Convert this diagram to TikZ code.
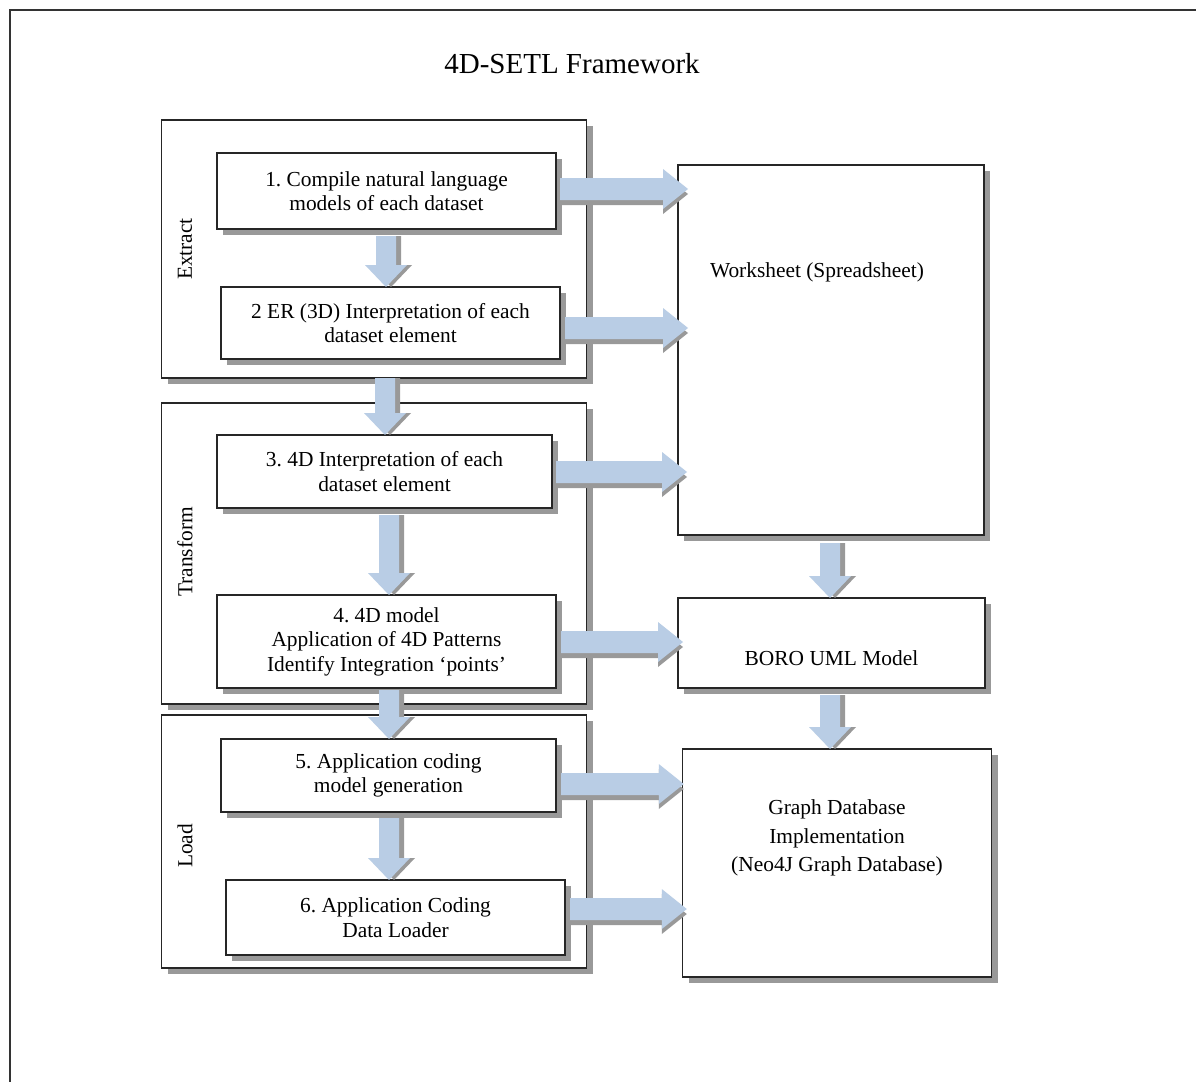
\documentclass[tikz,border=0pt]{standalone}
\usepackage{fontspec}
\setmainfont{Liberation Serif}
\frenchspacing
\usetikzlibrary{calc,shadows}
\definecolor{arrowblue}{RGB}{185,205,229}
\definecolor{shadowgrey}{RGB}{153,153,153}

\tikzset{
  boxshadow/.style={drop shadow={shadow xshift=6pt, shadow yshift=-6pt, fill=shadowgrey, opacity=1}},
  plainbox/.style={draw=black!85, line width=1.3pt, fill=white, boxshadow, inner sep=0pt, outer sep=0pt},
  stepbox/.style={plainbox, align=center, font=\fontsize{21.4}{24.5}\selectfont},
  txt/.style={inner sep=0pt, align=center, font=\fontsize{21.4}{24.5}\selectfont},
  phase/.style={txt, rotate=90},
}

% block arrow pointing down, shaft centred on x (px), from below node #2 to top of node #3
\newcommand\downblock[4]{%
  \foreach \dx/\dy/\col in {5/-5/shadowgrey, 0/0/arrowblue}{%
    \fill[\col, xshift=\dx pt, yshift=\dy pt] let \p1=(#2.south), \p2=(#3.north) in
      ({#1pt-10pt},{\y1-#4pt}) -- ({#1pt-10pt},{\y2+22pt}) -- ({#1pt-21pt},{\y2+22pt})
      -- (#1pt,\y2) -- ({#1pt+21pt},{\y2+22pt}) -- ({#1pt+10pt},{\y2+22pt})
      -- ({#1pt+10pt},{\y1-#4pt}) -- cycle;}}

% block arrow pointing right at height y (px), from node #2 into node #3
\newcommand\rightblock[5]{%
  \foreach \dx/\dy/\col in {5/-5/shadowgrey, 0/0/arrowblue}{%
    \fill[\col, xshift=\dx pt, yshift=\dy pt] let \p1=(#2.east), \p2=(#3.west) in
      ({\x1+#4pt},{-#1pt+11pt}) -- ({\x2+#5pt-25pt},{-#1pt+11pt}) -- ({\x2+#5pt-25pt},{-#1pt+20pt})
      -- ({\x2+#5pt},{-#1pt}) -- ({\x2+#5pt-25pt},{-#1pt-20pt}) -- ({\x2+#5pt-25pt},{-#1pt-11pt})
      -- ({\x1+#4pt},{-#1pt-11pt}) -- cycle;}}

\begin{document}
\begin{tikzpicture}[x=1pt,y=-1pt]
  \clip (0,0) rectangle (1196,1081);
  \fill[white] (0,0) rectangle (1196,1081);

  % outer frame (runs past the page on the right and bottom)
  \draw[black!80, line width=2pt] (1250,10) -- (10,10) -- (10,1150);

  \node[font=\fontsize{29}{33}\selectfont, inner sep=0pt] (title) at (572,64) {4D-SETL Framework};

  % phase groups
  \node[plainbox, minimum width=425pt, minimum height=258pt] (extract) at (374.2,249) {};
  \node[plainbox, minimum width=425pt, minimum height=301pt] (transform) at (374.2,553.5) {};
  \node[plainbox, minimum width=425pt, minimum height=253pt] (load) at (374.2,841.5) {};
  \node[phase] (extract-l) at (185,249) {Extract};
  \node[phase] (transform-l) at (185,552) {Transform};
  \node[phase] (load-l) at (185,846) {Load};

  % process steps
  \node[stepbox, minimum width=339pt, minimum height=76pt] (b1) at (386.5,191) {1. Compile natural language\\models of each dataset};
  \node[stepbox, minimum width=339pt, minimum height=72pt] (b2) at (390.5,323) {2 ER (3D) Interpretation of each\\dataset element};
  \node[stepbox, minimum width=335pt, minimum height=73pt] (b3) at (384.5,471.5) {3. 4D Interpretation of each\\dataset element};
  \node[stepbox, minimum width=339pt, minimum height=93pt] (b4) at (386.5,641.5) {4. 4D model\\Application of 4D Patterns\\Identify Integration `points'};
  \node[stepbox, minimum width=335pt, minimum height=73pt] (b5) at (388.5,775.5) {5. Application coding\\model generation};
  \node[stepbox, minimum width=339pt, minimum height=75pt] (b6) at (395.5,917.5) {6. Application Coding\\Data Loader};

  % artefacts
  \node[plainbox, minimum width=306pt, minimum height=370pt] (ws) at (831,350) {};
  \node[plainbox, minimum width=307pt, minimum height=90pt] (boro) at (831.5,643) {};
  \node[plainbox, minimum width=309pt, minimum height=228pt] (gdb) at (837.3,863) {};
  \node[txt] (ws-l) at (817,272) {Worksheet (Spreadsheet)};
  \node[txt] (boro-l) at (831.5,658) {BORO UML Model};
  \node[txt, font=\fontsize{21.4}{28.3}\selectfont] (gdb-l) at (837,838) {Graph Database\\Implementation\\(Neo4J Graph Database)};

  % flow between steps
  \downblock{386}{b1}{b2}{7}
  \downblock{385}{extract}{b3}{0}
  \downblock{389}{b3}{b4}{7}
  \downblock{389}{transform}{b5}{-14}
  \downblock{389}{b5}{b6}{6}
  \downblock{830}{ws}{boro}{8}
  \downblock{830}{boro}{gdb}{7}

  % flow into artefacts
  \rightblock{189}{b1}{ws}{4}{10}
  \rightblock{328}{b2}{ws}{5}{10}
  \rightblock{472}{b3}{ws}{4}{9}
  \rightblock{642}{b4}{boro}{5}{5}
  \rightblock{784}{b5}{gdb}{5}{1}
  \rightblock{909}{b6}{gdb}{5}{4}
\end{tikzpicture}
\end{document}
